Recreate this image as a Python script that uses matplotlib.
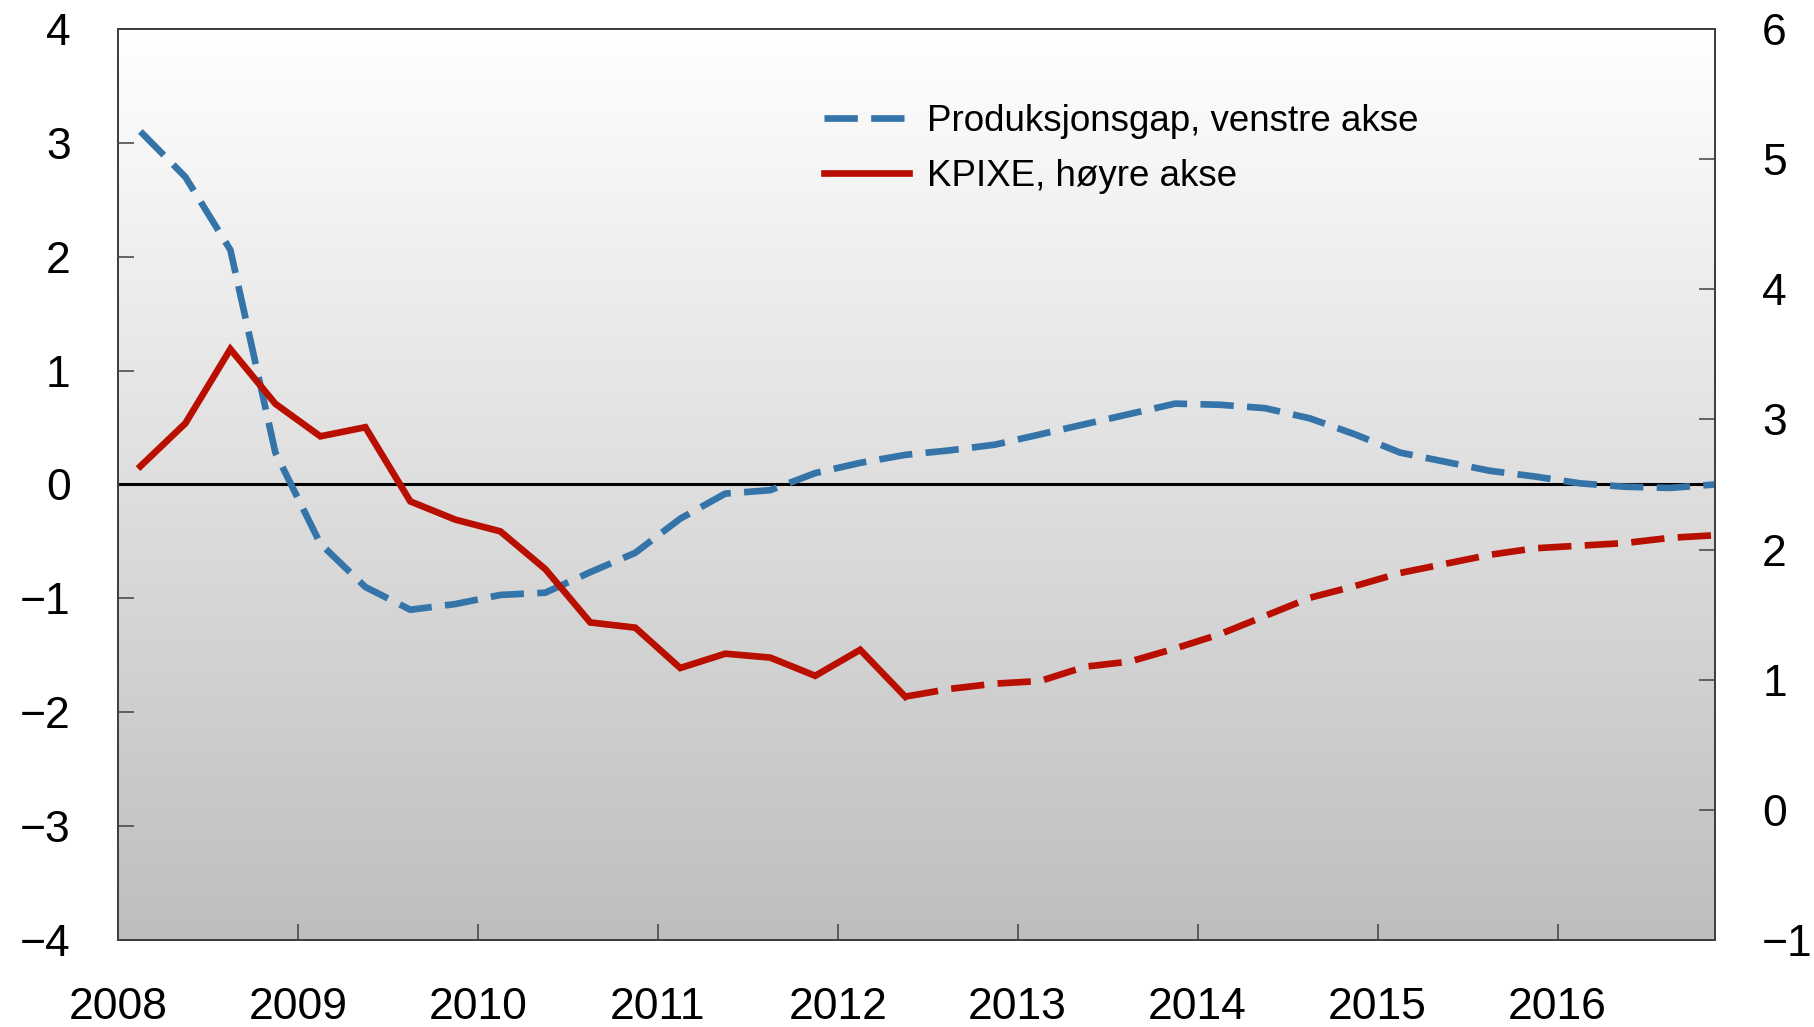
import numpy as np
import matplotlib
matplotlib.use("Agg")
import matplotlib.pyplot as plt
from matplotlib.colors import LinearSegmentedColormap

plt.rcParams['font.family'] = ['Liberation Sans', 'DejaVu Sans']

# quarterly data, 2008Q1 - 2016Q4 (plotted at quarter midpoints)
years = np.arange(2008, 2017)
quarter_pos = np.arange(2008.125, 2017, 0.25)

# Produksjonsgap, venstre akse
gap = [3.10, 2.70, 2.06, 0.28, -0.52, -0.90, -1.10, -1.05, -0.97, -0.95,
       -0.77, -0.60, -0.30, -0.08, -0.05, 0.10, 0.19, 0.26, 0.30, 0.35,
       0.44, 0.53, 0.62, 0.71, 0.70, 0.67, 0.58, 0.44, 0.28, 0.20,
       0.12, 0.07, 0.01, -0.02, -0.03, 0.00]

# KPIXE, hoyre akse (history solid up to 2012Q2, then projection dashed)
kpixe = [2.64, 2.97, 3.54, 3.12, 2.87, 2.94, 2.37, 2.23, 2.14, 1.85,
         1.44, 1.40, 1.09, 1.20, 1.17, 1.03, 1.23, 0.87, 0.93, 0.97,
         0.99, 1.10, 1.14, 1.24, 1.35, 1.49, 1.63, 1.72, 1.82, 1.89,
         1.96, 2.01, 2.03, 2.05, 2.09, 2.11]
n_hist = 18

left_ticks = np.arange(-4, 5)
right_ticks = np.arange(-1, 7)

blue = '#3474a8'
red = '#b80f00'

fig = plt.figure(figsize=(18.14, 10.27), dpi=100)
ax = fig.add_axes([0.065, 0.0847, 0.8804, 0.8871])
ax2 = ax.twinx()

# grey gradient background, white at the top
cmap = LinearSegmentedColormap.from_list('bg', ['#ffffff', '#bebebe'])
grad = np.linspace(0, 1, 256).reshape(-1, 1)
ax.imshow(grad, cmap=cmap, aspect='auto', extent=[0, 1, 0, 1],
          transform=ax.transAxes, zorder=0)

ax.axhline(0, color='black', lw=2.2, zorder=2)

ax.plot(quarter_pos, gap, color=blue, lw=4.8, dashes=(5, 2),
        label='Produksjonsgap, venstre akse', zorder=3)
ax2.plot(quarter_pos[:n_hist], kpixe[:n_hist], color=red, lw=4.8,
         solid_joinstyle='miter', label='KPIXE, høyre akse')
ax2.plot(quarter_pos[n_hist - 1:], kpixe[n_hist - 1:], color=red, lw=4.8,
         dashes=(5, 2))

ax.set_xlim(2008, 2016.875)
ax.set_ylim(-4, 4)
ax2.set_ylim(-1, 6)
ax.set_xticks(years)
ax.set_yticks(left_ticks)
ax2.set_yticks(right_ticks)

for a in (ax, ax2):
    for s in a.spines.values():
        s.set_color('#404040')
        s.set_linewidth(1.4)
ax.tick_params(axis='both', direction='in', length=11.5, width=1.1,
               color='#404040', labelsize=32, pad=34)
ax2.tick_params(axis='y', direction='in', length=11.5, width=1.1,
                color='#404040', labelsize=32, pad=34)

h1, l1 = ax.get_legend_handles_labels()
h2, l2 = ax2.get_legend_handles_labels()
fig.legend(h1 + h2, l1 + l2, loc='upper left', bbox_to_anchor=(0.4542, 0.899),
           frameon=False, fontsize=26.5, handlelength=2.3, handletextpad=0.5,
           labelspacing=0.55, borderpad=0, borderaxespad=0)

fig.savefig('out.png', dpi=100)
